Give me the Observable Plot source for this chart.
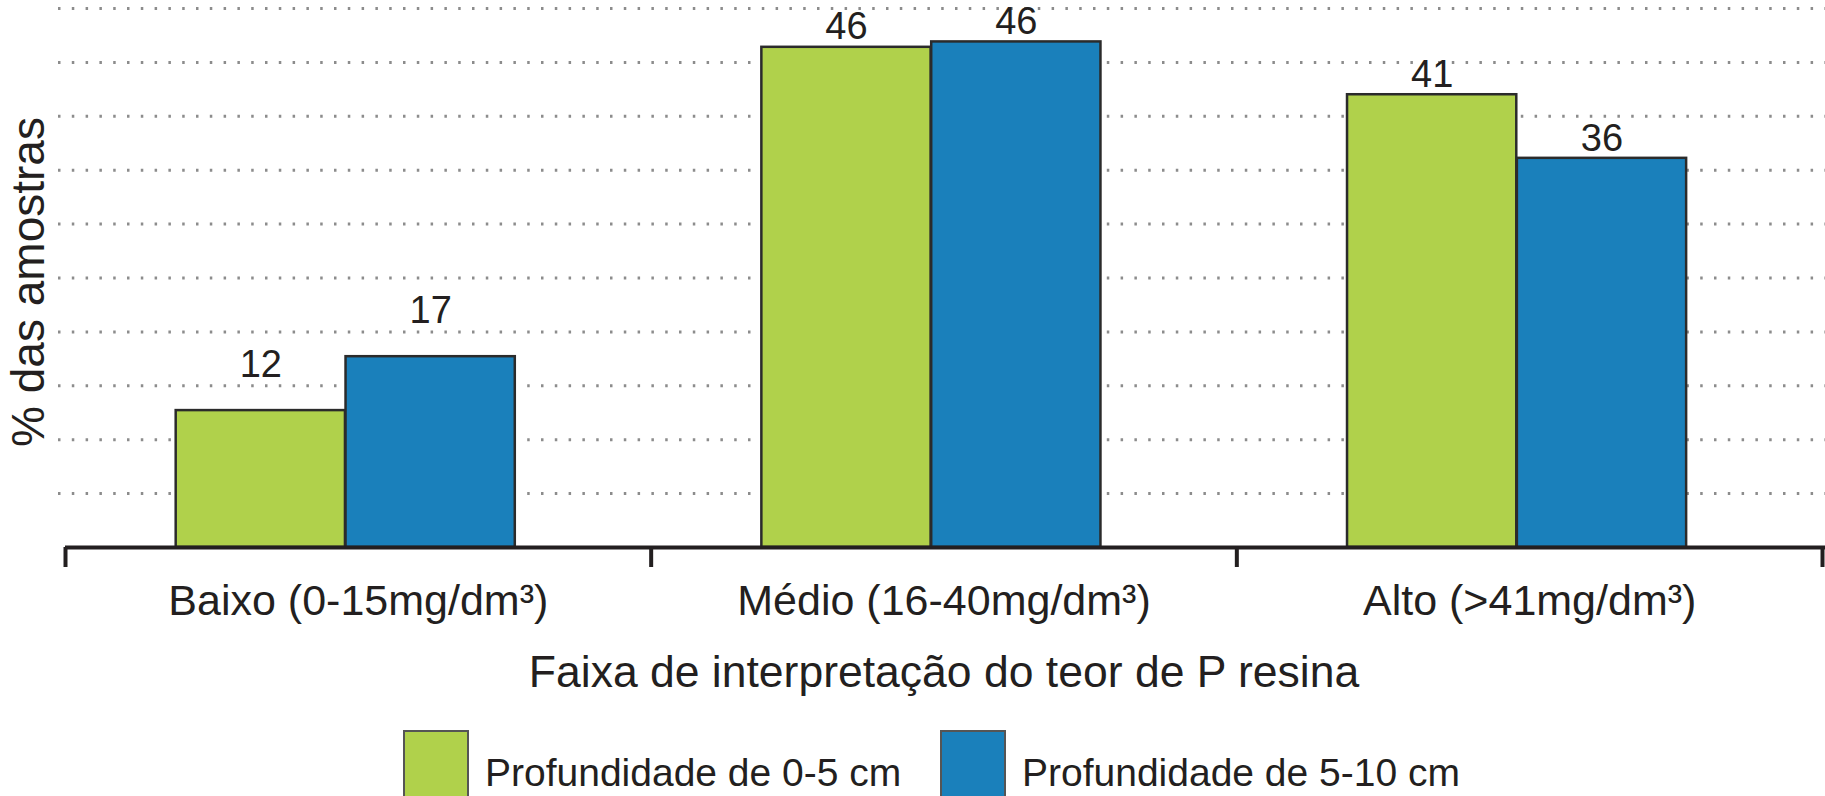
<!DOCTYPE html>
<html><head><meta charset="utf-8">
<script src="https://cdn.jsdelivr.net/npm/d3@7"></script>
<script src="https://cdn.jsdelivr.net/npm/@observablehq/plot@0.6"></script>
<style>
body{margin:0;background:#fff;font-family:"Liberation Sans",Arial,sans-serif;overflow:hidden;color:#231f20}
#legend{position:relative;height:81px;}
.item{position:absolute;top:15px;display:flex;align-items:flex-start}
.sw{width:62px;height:90px;border:2px solid #555;border-bottom:none}
.lt{font-size:39px;line-height:1;margin-left:16px;margin-top:23px;white-space:nowrap}
</style>
</head><body>
<div id="chart"></div>
<div id="legend"></div>
<script>
const categories = ["Baixo (0-15mg/dm³)", "Médio (16-40mg/dm³)", "Alto (>41mg/dm³)"];
const series = ["Profundidade de 0-5 cm", "Profundidade de 5-10 cm"];
const values0to5 = [12.7, 46.4, 42.0];
const values5to10 = [17.7, 46.9, 36.1];
const labels0to5 = ["12", "46", "41"];
const labels5to10 = ["17", "46", "36"];
const gridTicks = [5, 10, 15, 20, 25, 30, 35, 40, 45, 50];
const colors = ["#b0d14b", "#1a80bb"];
const xTitle = "Faixa de interpretação do teor de P resina";
const yTitle = "% das amostras";

// layout: bar offsets within each category slot (style, not data)
const barStart = [0.189, 0.479];
const barWidth = 0.289;

const rows = [];
categories.forEach((c, i) => {
  rows.push({i, c, s: 0, v: values0to5[i], label: labels0to5[i]});
  rows.push({i, c, s: 1, v: values5to10[i], label: labels5to10[i]});
});

const chart = Plot.plot({
  width: 1825,
  height: 715,
  marginLeft: 65,
  marginRight: 3,
  marginTop: 8,
  marginBottom: 168,
  style: {fontFamily: '"Liberation Sans", Arial, sans-serif', color: "#231f20", background: "#fff", overflow: "visible"},
  x: {type: "linear", domain: [0, 3], axis: null},
  y: {domain: [0, 50], axis: null},
  marks: [
    Plot.ruleY(gridTicks, {stroke: "#8c8c8c", strokeWidth: 3, strokeDasharray: "2.5,11.3", insetLeft: -7, insetRight: -3}),
    Plot.rectY(rows, {
      x1: d => d.i + barStart[d.s],
      x2: d => d.i + barStart[d.s] + barWidth,
      y1: 0, y2: "v",
      fill: d => colors[d.s],
      stroke: "#2b2b2b", strokeWidth: 2.5
    }),
    Plot.text(rows.filter(d => d.i === 0), {
      x: d => d.i + barStart[d.s] + barWidth / 2, y: "v", text: "label",
      dy: -46, fontSize: 38, fill: "#231f20"
    }),
    Plot.text(rows.filter(d => d.i !== 0), {
      x: d => d.i + barStart[d.s] + barWidth / 2, y: "v", text: "label",
      dy: -20, fontSize: 38, fill: "#231f20"
    }),
    Plot.ruleY([0], {stroke: "#231f20", strokeWidth: 4, insetRight: -3}),
    Plot.axisX({ticks: [0, 1, 2, 3], tickSize: 20, tickFormat: () => "", strokeWidth: 4, stroke: "#231f20"}),
    Plot.axisX({ticks: [0.5, 1.5, 2.5], tickSize: 0, tickPadding: 37, tickFormat: t => categories[Math.floor(t)], fontSize: 43, fill: "#231f20"}),
    Plot.text([xTitle], {frameAnchor: "bottom", dy: 139, fontSize: 44.5, fill: "#231f20"}),
    Plot.text([yTitle], {frameAnchor: "left", textAnchor: "middle", rotate: -90, dx: -36, dy: 4, fontSize: 46, fill: "#231f20"})
  ]
});
document.getElementById("chart").appendChild(chart);

const legend = document.getElementById("legend");
const lefts = [403, 940];
series.forEach((s, k) => {
  const item = document.createElement("div");
  item.className = "item";
  item.style.left = lefts[k] + "px";
  const sw = document.createElement("div");
  sw.className = "sw";
  sw.style.background = colors[k];
  const lt = document.createElement("div");
  lt.className = "lt";
  lt.textContent = s;
  item.appendChild(sw); item.appendChild(lt);
  legend.appendChild(item);
});
</script>
</body></html>
